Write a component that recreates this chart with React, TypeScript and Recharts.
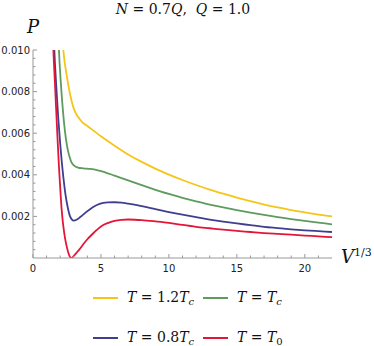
import React from 'react';
import { LineChart, Line, XAxis, YAxis } from 'recharts';

// Series data (x = V^{1/3}, y = P)
const yellowX = [2.05, 2.23, 2.5, 2.75, 3.0, 3.3, 3.6, 4, 5, 6, 7, 8, 9, 10, 11, 12, 13, 14, 15, 16, 17, 18, 19, 20, 21, 22];
const yellowY = [0.0118, 0.0100, 0.0087, 0.0078, 0.00718, 0.0068, 0.00655, 0.00635, 0.00585, 0.0054, 0.00498, 0.00462, 0.0043, 0.00401, 0.00375, 0.00351, 0.00329, 0.00309, 0.0029, 0.00273, 0.00257, 0.00243, 0.0023, 0.00219, 0.00209, 0.002];

const greenX = [1.8, 1.91, 2.05, 2.2, 2.35, 2.5, 2.65, 2.8, 3.0, 3.3, 3.7, 4.2, 4.7, 5.3, 6, 7, 8, 9, 10, 11, 12, 13, 14, 15, 16, 17, 18, 19, 20, 21, 22];
const greenY = [0.0123, 0.0100, 0.0084, 0.0071, 0.0061, 0.0054, 0.00495, 0.00465, 0.00445, 0.00435, 0.00431, 0.00428, 0.00423, 0.00412, 0.00396, 0.00373, 0.0035, 0.00328, 0.00308, 0.00289, 0.00272, 0.00257, 0.00243, 0.0023, 0.00218, 0.00207, 0.00197, 0.00187, 0.00178, 0.0017, 0.00162];

const blueX = [1.48, 1.57, 1.7, 1.85, 2.0, 2.12, 2.23, 2.38, 2.55, 2.7, 2.85, 3.0, 3.2, 3.5, 3.9, 4.4, 4.9, 5.5, 6, 6.5, 7, 8, 9, 10, 11, 12, 13, 14, 15, 16, 17, 18, 19, 20, 21, 22];
const blueY = [0.0118, 0.0100, 0.0084, 0.0068, 0.0055, 0.0046, 0.0039, 0.0031, 0.00245, 0.00205, 0.00186, 0.0018, 0.00184, 0.00198, 0.0022, 0.00244, 0.0026, 0.00267, 0.00268, 0.00266, 0.00261, 0.00249, 0.00235, 0.00221, 0.00208, 0.00196, 0.00185, 0.00175, 0.00166, 0.00158, 0.0015, 0.00144, 0.00138, 0.00133, 0.00129, 0.00125];

const redX = [1.43, 1.5, 1.6, 1.7, 1.8, 1.9, 2.0, 2.1, 2.2, 2.3, 2.4, 2.5, 2.6, 2.7, 2.8, 2.9, 3.0, 3.2, 3.4, 3.7, 4.0, 4.5, 5.0, 5.5, 6, 6.5, 7, 7.5, 8, 9, 10, 11, 12, 13, 14, 15, 16, 17, 18, 19, 20, 21, 22];
const redY = [0.0115, 0.0100, 0.0086, 0.0072, 0.0058, 0.0045, 0.0034, 0.0024, 0.0017, 0.0012, 0.0008, 0.0005, 0.00025, 0.00008, 0.00001, 0.00002, 0.0001, 0.00025, 0.0004, 0.00066, 0.0009, 0.00123, 0.00152, 0.00168, 0.00178, 0.00183, 0.00185, 0.00184, 0.00182, 0.00176, 0.00169, 0.00159, 0.0015, 0.00143, 0.00136, 0.0013, 0.00125, 0.0012, 0.00116, 0.00112, 0.00108, 0.00104, 0.001];

// Ticks
const xMajorTicks = [0, 5, 10, 15, 20];
const xMinorTicks = [1, 2, 3, 4, 6, 7, 8, 9, 11, 12, 13, 14, 16, 17, 18, 19, 21];
const yMajorTicks = [0.002, 0.004, 0.006, 0.008, 0.01];
const yMajorLabels = ['0.002', '0.004', '0.006', '0.008', '0.010'];
const yMinorTicks = [0.0004, 0.0008, 0.0012, 0.0016, 0.0024, 0.0028, 0.0032, 0.0036, 0.0044, 0.0048, 0.0052, 0.0056, 0.0064, 0.0068, 0.0072, 0.0076, 0.0084, 0.0088, 0.0092, 0.0096];

const colors = ['#F5C518', '#5E9B5C', '#3F3F8F', '#E3163A'];

const zip = (xs: number[], ys: number[]) => xs.map((x, i) => ({ x, y: ys[i] }));
const series = [
  zip(yellowX, yellowY),
  zip(greenX, greenY),
  zip(blueX, blueY),
  zip(redX, redY),
];

const AXIS = '#999999';
const serif = '"DejaVu Serif", "Liberation Serif", serif';

const XTick = (props: any) => {
  const { x, y, payload } = props;
  const major = xMajorTicks.includes(payload.value);
  return (
    <g>
      <line x1={x} x2={x} y1={y} y2={y - (major ? 4 : 2.5)} stroke={AXIS} strokeWidth={1} />
      {major && (
        <text x={x} y={y + 14} textAnchor="middle" fontSize={10} fontFamily='"DejaVu Sans", sans-serif' fill="#222">
          {payload.value}
        </text>
      )}
    </g>
  );
};

const YTick = (props: any) => {
  const { x, y, payload } = props;
  const idx = yMajorTicks.findIndex((v) => Math.abs(v - payload.value) < 1e-9);
  const major = idx >= 0;
  return (
    <g>
      <line x1={x} x2={x + (major ? 4 : 2.5)} y1={y} y2={y} stroke={AXIS} strokeWidth={1} />
      {major && (
        <text x={x - 3} y={y + 3.5} textAnchor="end" fontSize={10} fontFamily='"DejaVu Sans", sans-serif' fill="#222">
          {yMajorLabels[idx]}
        </text>
      )}
    </g>
  );
};

const LegendItem = ({ color, children, left, top }: any) => (
  <div style={{ position: 'absolute', left, top, height: 20, lineHeight: '20px', display: 'flex', alignItems: 'center', whiteSpace: 'nowrap' }}>
    <div style={{ width: 25, height: 2, background: color, marginRight: 9 }} />
    <span style={{ fontFamily: serif, fontSize: 14, color: '#111', lineHeight: '20px' }}>{children}</span>
  </div>
);

const TLabel = ({ coef, sub }: { coef: string; sub: string }) => (
  <>
    <i>T</i>
    {' = '}
    {coef}
    <i>T</i>
    <span style={{ fontSize: 10, fontStyle: sub === 'c' ? 'italic' : 'normal', position: 'relative', top: 3 }}>{sub}</span>
  </>
);

export default function App() {
  return (
    <div style={{ position: 'absolute', left: 0, top: 0, width: 374, height: 346, background: '#fff', overflow: 'hidden' }}>
      <LineChart width={374} height={346} margin={{ top: 50, right: 42, bottom: 68, left: 0 }}>
        <XAxis
          type="number"
          dataKey="x"
          domain={[0, 22]}
          ticks={[...xMajorTicks, ...xMinorTicks].sort((a, b) => a - b)}
          allowDataOverflow
          height={20}
          stroke={AXIS}
          tickLine={false}
          tickSize={0}
          tickMargin={0}
          tick={<XTick />}
          interval={0}
        />
        <YAxis
          type="number"
          dataKey="y"
          domain={[0, 0.01]}
          ticks={[...yMinorTicks, ...yMajorTicks].sort((a, b) => a - b)}
          allowDataOverflow
          width={33}
          stroke={AXIS}
          tickLine={false}
          tickSize={0}
          tickMargin={0}
          tick={<YTick />}
          interval={0}
        />
        {series.map((d, i) => (
          <Line
            key={i}
            data={d}
            dataKey="y"
            type="monotone"
            stroke={colors[i]}
            strokeWidth={1.8}
            dot={false}
            isAnimationActive={false}
          />
        ))}
      </LineChart>

      <div style={{ position: 'absolute', left: 0, width: 374, top: -1, lineHeight: '20px', textAlign: 'center', fontFamily: serif, fontSize: 14, whiteSpace: 'pre', color: '#111' }}>
        <span style={{ position: 'relative', left: -4 }}>
          <i>N</i>{' = 0.7'}<i>Q</i>{',  '}<i>Q</i>{' = 1.0'}
        </span>
      </div>

      <div style={{ position: 'absolute', left: 27, top: 17, lineHeight: '20px', fontFamily: serif, fontSize: 18, fontStyle: 'italic', color: '#111' }}>P</div>
      <div style={{ position: 'absolute', left: 341, top: 247, lineHeight: '20px', fontFamily: serif, fontSize: 18, color: '#111', whiteSpace: 'nowrap' }}>
        <i>V</i>
        <span style={{ fontSize: 11, position: 'relative', top: -7 }}>1/3</span>
      </div>

      <LegendItem color={colors[0]} left={93} top={288}><TLabel coef="1.2" sub="c" /></LegendItem>
      <LegendItem color={colors[1]} left={203} top={288}><TLabel coef="" sub="c" /></LegendItem>
      <LegendItem color={colors[2]} left={93} top={328}><TLabel coef="0.8" sub="c" /></LegendItem>
      <LegendItem color={colors[3]} left={203} top={328}><TLabel coef="" sub="0" /></LegendItem>
    </div>
  );
}
